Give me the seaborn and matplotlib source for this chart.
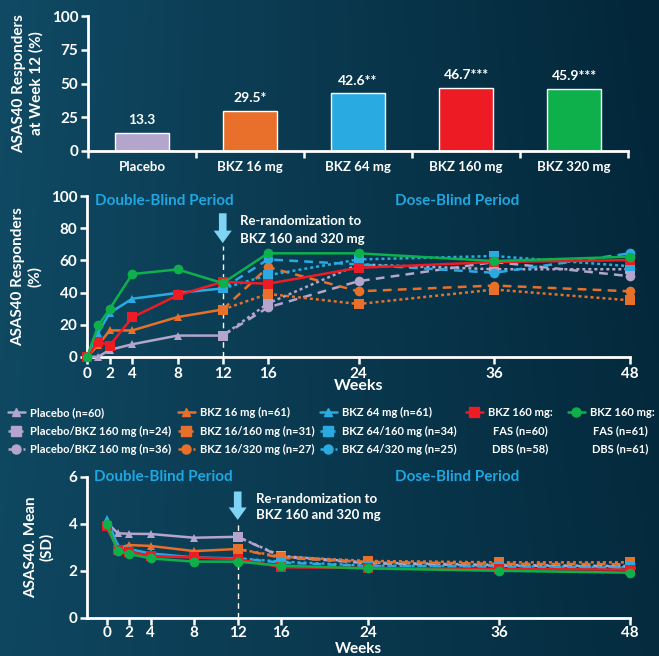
import numpy as np
import matplotlib
matplotlib.use('Agg')
import matplotlib.pyplot as plt
from matplotlib.lines import Line2D
import seaborn as sns

sns.set_style('ticks')
plt.rcParams['font.family'] = ['Lato', 'DejaVu Sans']
plt.rcParams['font.weight'] = 'bold'
plt.rcParams['text.color'] = 'white'
plt.rcParams['axes.labelcolor'] = 'white'
plt.rcParams['xtick.color'] = 'white'
plt.rcParams['ytick.color'] = 'white'

# colours
LAV = '#b3a5cb'
ORG = '#e8702a'
BLU = '#29abe2'
RED = '#ed1c24'
GRN = '#0db04b'
TXTBLU = '#1ea7e1'

# ---- data: bar chart (week 12)
arms = ['Placebo', 'BKZ 16 mg', 'BKZ 64 mg', 'BKZ 160 mg', 'BKZ 320 mg']
resp_w12 = [13.3, 29.5, 42.6, 46.7, 45.9]
resp_w12_labels = ['13.3', '29.5*', '42.6**', '46.7***', '45.9***']
arm_colors = [LAV, ORG, BLU, RED, GRN]

# ---- data: time course
weeks_db = [0, 1, 2, 4, 8, 12]
weeks_post = [12, 16, 24, 36, 48]
weeks_all = [0, 1, 2, 4, 8, 12, 16, 24, 36, 48]

# ASAS40 responders (%)
resp_placebo = [0, 0.2, 4.4, 7.9, 13.3, 13.3]
resp_16 = [0, 7.5, 16.5, 16.5, 24.8, 29.5]
resp_64 = [0, 15.2, 27.3, 36.2, 39.8, 42.6]
resp_160 = [0, 9.6, 7.1, 24.6, 38.3, 46.7, 45.5, 55.4, 59.0, 60.2]
resp_320 = [0, 19.6, 29.8, 51.5, 54.4, 45.9, 64.4, 64.4, 59.6, 62.3]
resp_pbo_160 = [13.3, 33.3, 57.5, 54.5, 54.5]
resp_pbo_320 = [13.3, 30.8, 47.1, 59.0, 50.2]
resp_16_160 = [29.5, 39.2, 32.9, 41.9, 35.2]
resp_16_320 = [29.5, 55.8, 40.8, 44.4, 40.8]
resp_64_160 = [42.6, 50.8, 60.6, 62.7, 56.4]
resp_64_320 = [42.6, 60.6, 57.5, 52.3, 64.4]

# ASAS40 mean
asas_placebo = [4.05, 3.6, 3.58, 3.57, 3.41, 3.45]
asas_16 = [3.85, 2.96, 3.1, 3.06, 2.84, 2.93]
asas_64 = [4.2, 3.06, 2.93, 2.74, 2.57, 2.53]
asas_160 = [3.91, 2.89, 2.82, 2.63, 2.57, 2.5, 2.15, 2.12, 2.08, 2.05]
asas_320 = [3.98, 2.84, 2.72, 2.53, 2.39, 2.39, 2.22, 2.1, 2.0, 1.92]
asas_pbo_160 = [3.45, 2.63, 2.35, 2.25, 2.2]
asas_pbo_320 = [3.45, 2.6, 2.32, 2.22, 2.18]
asas_16_160 = [2.93, 2.6, 2.42, 2.36, 2.36]
asas_16_320 = [2.93, 2.55, 2.38, 2.3, 2.28]
asas_64_160 = [2.53, 2.39, 2.22, 2.2, 2.15]
asas_64_320 = [2.53, 2.35, 2.2, 2.17, 2.12]

week_ticks = [0, 2, 4, 8, 12, 16, 24, 36, 48]

DOT = (0, (1.2, 1.2))
DASH = (0, (3.5, 2.5))

fig = plt.figure(figsize=(6.59, 6.56), dpi=100)

# background gradient
gx = np.linspace(0, 1, 300)
gy = np.linspace(0, 1, 300)
GX, GY = np.meshgrid(gx, gy)
t = np.clip(0.75 * GX + 0.25 * (1 - GY) * GX + 0.1 * GY, 0, 1)
c1 = np.array([16, 74, 100]) / 255
c2 = np.array([3, 38, 56]) / 255
grad = c1[None, None, :] * (1 - t[..., None]) + c2[None, None, :] * t[..., None]
bg = fig.add_axes([0, 0, 1, 1], zorder=-10)
bg.imshow(grad, aspect='auto', extent=[0, 1, 0, 1], origin='upper')
bg.axis('off')


def style_axes(ax):
    ax.set_facecolor('none')
    for s in ['top', 'right']:
        ax.spines[s].set_visible(False)
    for s in ['left', 'bottom']:
        ax.spines[s].set_color('white')
        ax.spines[s].set_linewidth(2)
    ax.tick_params(axis='both', which='major', direction='out', length=5, width=1.8,
                   labelsize=11, pad=2)
    for lab in ax.get_xticklabels() + ax.get_yticklabels():
        lab.set_fontweight('bold')


def draw(ax, x, y, color, marker, ls='-', ms=7, lw=1.8, z=3, markevery=None):
    sns.lineplot(x=x, y=y, ax=ax, color=color, marker=marker, linestyle=ls,
                 markersize=ms, linewidth=lw, markeredgewidth=0, markeredgecolor=color,
                 clip_on=False, zorder=z, markevery=markevery)


# ---------------- top: bars
ax1 = fig.add_axes([88 / 659, 1 - 151 / 656, 540 / 659, 135 / 656])
sns.barplot(x=arms, y=resp_w12, hue=arms, palette=arm_colors, legend=False,
            width=0.5, saturation=1, ax=ax1)
ax1.set_xlim(-0.5, 4.5)
ax1.set_ylim(0, 100)
ax1.set_yticks([0, 25, 50, 75, 100])
ax1.set_xticks(np.arange(-0.5, 5, 1.0))
ax1.set_xticklabels([])
ax1.set_xticks(range(len(arms)), minor=True)
ax1.set_xticklabels(arms, minor=True, fontsize=9.5, fontweight='bold')
ax1.tick_params(axis='x', which='minor', length=0, pad=7)
ax1.set_ylabel('ASAS40 Responders\nat Week 12 (%)', fontsize=11, fontweight='bold', labelpad=6)
ax1.set_xlabel('')
style_axes(ax1)
for i, cont in enumerate(ax1.containers):
    ax1.bar_label(cont, labels=[resp_w12_labels[i]], padding=5, color='white',
                  fontsize=10, fontweight='bold')

# ---------------- middle: responders over time
ax2 = fig.add_axes([87 / 659, 1 - 357 / 656, 543 / 659, 161 / 656])
draw(ax2, weeks_post, resp_pbo_320, LAV, 'o', DASH, z=2, markevery=[1, 2, 3, 4])
draw(ax2, weeks_post, resp_pbo_160, LAV, 's', DOT, z=2)
draw(ax2, weeks_post, resp_16_320, ORG, 'o', DASH, z=2, markevery=[1, 2, 3, 4])
draw(ax2, weeks_post, resp_16_160, ORG, 's', DOT, z=2)
draw(ax2, weeks_post, resp_64_320, BLU, 'o', DASH, z=2, markevery=[1, 2, 3, 4])
draw(ax2, weeks_post, resp_64_160, BLU, 's', DOT, z=2)
draw(ax2, weeks_db, resp_placebo, LAV, '^', '-', ms=6, z=3, markevery=[0, 1, 2, 3, 4])
draw(ax2, weeks_db, resp_16, ORG, '^', '-', ms=6, z=3, markevery=[0, 1, 2, 3, 4])
draw(ax2, weeks_db, resp_64, BLU, '^', '-', ms=6, z=3, markevery=[0, 1, 2, 3, 4])
draw(ax2, weeks_all, resp_160, RED, 's', '-', z=4)
draw(ax2, weeks_all, resp_320, GRN, 'o', '-', z=5)
ax2.set_xlim(0, 48)
ax2.set_ylim(0, 100)
ax2.set_xticks(week_ticks)
ax2.set_yticks([0, 20, 40, 60, 80, 100])
ax2.set_xlabel('Weeks', fontsize=11.5, fontweight='bold', labelpad=-1)
ax2.set_ylabel('ASAS40 Responders\n(%)', fontsize=11, fontweight='bold', labelpad=6)
style_axes(ax2)
ax2.text(0.7, 97, 'Double-Blind Period', color=TXTBLU, fontsize=11, fontweight='bold', va='center')
ax2.text(27.2, 97, 'Dose-Blind Period', color=TXTBLU, fontsize=11, fontweight='bold', va='center')
ax2.text(13.5, 84.5, 'Re-randomization to', fontsize=9.5, fontweight='bold', va='center')
ax2.text(13.5, 73, 'BKZ 160 and 320 mg', fontsize=9.5, fontweight='bold', va='center')
ax2.annotate('', xy=(12, 69), xytext=(12, 91),
             arrowprops=dict(arrowstyle='simple,head_width=1.3,head_length=0.9,tail_width=0.55',
                             color='#7fd3f5', lw=0))
ax2.plot([12, 12], [0, 69], color='white', lw=1, ls=(0, (4, 3)), zorder=1)

# ---------------- legend
leg_kw = dict(loc='upper left', frameon=False, fontsize=8, handlelength=1.5,
              handletextpad=0.5, labelspacing=0.68, borderaxespad=0, borderpad=0)
col1 = [Line2D([], [], color=LAV, marker='^', ms=6, lw=1.8),
        Line2D([], [], color=LAV, marker='s', ms=6.5, ls=DOT, lw=1.8),
        Line2D([], [], color=LAV, marker='o', ms=6.5, ls=DASH, lw=1.8)]
col2 = [Line2D([], [], color=ORG, marker='^', ms=6, lw=1.8),
        Line2D([], [], color=ORG, marker='s', ms=6.5, ls=DOT, lw=1.8),
        Line2D([], [], color=ORG, marker='o', ms=6.5, ls=DASH, lw=1.8)]
col3 = [Line2D([], [], color=BLU, marker='^', ms=6, lw=1.8),
        Line2D([], [], color=BLU, marker='s', ms=6.5, ls=DOT, lw=1.8),
        Line2D([], [], color=BLU, marker='o', ms=6.5, ls=DASH, lw=1.8)]
l1 = fig.legend(col1, ['Placebo (n=60)', 'Placebo/BKZ 160 mg (n=24)', 'Placebo/BKZ 160 mg (n=36)'],
                bbox_to_anchor=(8 / 659, 1 - 407 / 656), **leg_kw)
l2 = fig.legend(col2, ['BKZ 16 mg (n=61)', 'BKZ 16/160 mg (n=31)', 'BKZ 16/320 mg (n=27)'],
                bbox_to_anchor=(178 / 659, 1 - 407 / 656), **leg_kw)
l3 = fig.legend(col3, ['BKZ 64 mg (n=61)', 'BKZ 64/160 mg (n=34)', 'BKZ 64/320 mg (n=25)'],
                bbox_to_anchor=(320 / 659, 1 - 407 / 656), **leg_kw)
l4 = fig.legend([Line2D([], [], color=RED, marker='s', ms=6.5, lw=1.8)], ['BKZ 160 mg:'],
                bbox_to_anchor=(466 / 659, 1 - 407 / 656), **leg_kw)
l5 = fig.legend([Line2D([], [], color=GRN, marker='o', ms=6.5, lw=1.8)], ['BKZ 160 mg:'],
                bbox_to_anchor=(568 / 659, 1 - 407 / 656), **leg_kw)
for leg in [l1, l2, l3, l4, l5]:
    for txt in leg.get_texts():
        txt.set_color('white')
        txt.set_fontweight('bold')
fig.text(520 / 659, 1 - 431 / 656, 'FAS (n=60)', ha='center', va='center', fontsize=8, fontweight='bold')
fig.text(520 / 659, 1 - 449 / 656, 'DBS (n=58)', ha='center', va='center', fontsize=8, fontweight='bold')
fig.text(620 / 659, 1 - 431 / 656, 'FAS (n=61)', ha='center', va='center', fontsize=8, fontweight='bold')
fig.text(620 / 659, 1 - 449 / 656, 'DBS (n=61)', ha='center', va='center', fontsize=8, fontweight='bold')

# ---------------- bottom: ASAS mean
ax3 = fig.add_axes([87 / 659, 1 - 617.7 / 656, 543 / 659, 140.7 / 656])
draw(ax3, weeks_post, asas_pbo_320, LAV, 'o', DASH, z=2, markevery=[1, 2, 3, 4])
draw(ax3, weeks_post, asas_pbo_160, LAV, 's', DOT, z=2)
draw(ax3, weeks_post, asas_16_320, ORG, 'o', DASH, z=2, markevery=[1, 2, 3, 4])
draw(ax3, weeks_post, asas_16_160, ORG, 's', DOT, z=2)
draw(ax3, weeks_post, asas_64_320, BLU, 'o', DASH, z=2, markevery=[1, 2, 3, 4])
draw(ax3, weeks_post, asas_64_160, BLU, 's', DOT, z=2)
draw(ax3, weeks_db, asas_placebo, LAV, '^', '-', ms=6, z=3, markevery=[0, 1, 2, 3, 4])
draw(ax3, weeks_db, asas_16, ORG, '^', '-', ms=6, z=3, markevery=[0, 1, 2, 3, 4])
draw(ax3, weeks_db, asas_64, BLU, '^', '-', ms=6, z=3, markevery=[0, 1, 2, 3, 4])
draw(ax3, weeks_all, asas_160, RED, 's', '-', z=4)
draw(ax3, weeks_all, asas_320, GRN, 'o', '-', z=5)
ax3.set_xlim(-1.83, 48)
ax3.set_ylim(0, 6)
ax3.set_xticks(week_ticks)
ax3.set_yticks([0, 2, 4, 6])
ax3.set_xlabel('Weeks', fontsize=11, fontweight='bold')
ax3.xaxis.set_label_coords(0.5, -0.175)
ax3.set_ylabel('ASAS40. Mean\n(SD)', fontsize=11, fontweight='bold', labelpad=10)
style_axes(ax3)
ax3.tick_params(axis='x', pad=1)
ax3.text(-1.2, 6.0, 'Double-Blind Period', color=TXTBLU, fontsize=11, fontweight='bold', va='center')
ax3.text(26.4, 6.0, 'Dose-Blind Period', color=TXTBLU, fontsize=11, fontweight='bold', va='center')
ax3.text(13.7, 5.06, 'Re-randomization to', fontsize=9.5, fontweight='bold', va='center')
ax3.text(13.7, 4.38, 'BKZ 160 and 320 mg', fontsize=9.5, fontweight='bold', va='center')
ax3.annotate('', xy=(12, 4.05), xytext=(12, 5.5),
             arrowprops=dict(arrowstyle='simple,head_width=1.3,head_length=0.9,tail_width=0.55',
                             color='#7fd3f5', lw=0))
ax3.plot([12, 12], [0, 4.05], color='white', lw=1, ls=(0, (4, 3)), zorder=1)

fig.savefig('out.png', dpi=100)
